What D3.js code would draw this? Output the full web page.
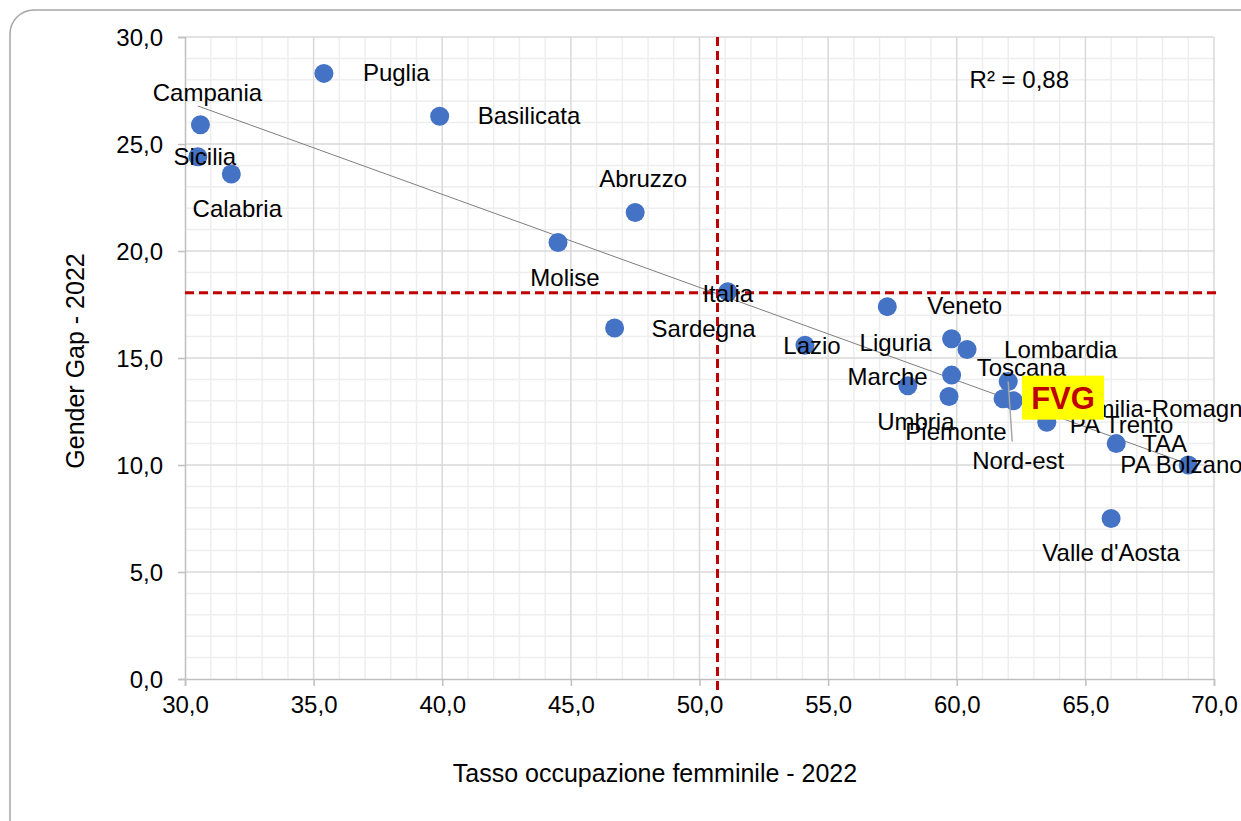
<!DOCTYPE html>
<html>
<head>
<meta charset="utf-8">
<script src="https://cdn.jsdelivr.net/npm/d3@7"></script>
<style>
  body { margin: 0; background: #fff; }
  svg { display: block; font-family: "Liberation Sans", Arial, sans-serif; }
</style>
</head>
<body>
<svg id="chart" width="1241" height="821"></svg>
<script>
// data
var regions = ["Puglia", "Basilicata", "Campania", "Sicilia", "Calabria", "Abruzzo", "Molise",
  "Italia", "Sardegna", "Lazio", "Veneto", "Liguria", "Lombardia", "Marche", "Umbria",
  "Piemonte", "Toscana", "FVG", "Nord-est", "Emilia-Romagna", "PA Trento", "TAA",
  "PA Bolzano", "Valle d'Aosta"];
var tassoOcc = [35.4, 39.9, 30.6, 30.5, 31.8, 47.5, 44.5,
  51.1, 46.7, 54.1, 57.3, 59.8, 60.4, 59.8, 58.1,
  59.7, 62.2, 61.8, 62.0, 63.8, 63.5, 66.2,
  69.0, 66.0];
var genderGap = [28.3, 26.3, 25.9, 24.4, 23.6, 21.8, 20.4,
  18.1, 16.4, 15.6, 17.4, 15.9, 15.4, 14.2, 13.7,
  13.2, 13.0, 13.1, 13.9, 12.6, 12.0, 11.0,
  10.0, 7.5];
var xTicks = [30, 35, 40, 45, 50, 55, 60, 65, 70];
var yTicks = [0, 5, 10, 15, 20, 25, 30];
var refX = 50.7, refY = 18.05; // red dashed reference lines
var r2Text = "R² = 0,88";

// label placement: [dx, dy, anchor]
var labelPos = {
  "Puglia": [39, 8, "start"], "Basilicata": [38, 8, "start"], "Campania": [7, -24, "middle"],
  "Sicilia": [7, 8, "middle"], "Calabria": [6, 43, "middle"], "Abruzzo": [8, -25, "middle"],
  "Molise": [7, 44, "middle"], "Italia": [0, 10, "middle"], "Sardegna": [37, 9, "start"],
  "Lazio": [7, 9, "middle"], "Veneto": [40, 7, "start"], "Liguria": [-20, 12, "end"],
  "Lombardia": [37, 9, "start"], "Marche": [-24, 10, "end"], "Umbria": [8, 44, "middle"],
  "Piemonte": [7, 43, "middle"], "Toscana": [8, -25, "middle"], "Nord-est": [10, 87, "middle"],
  "Emilia-Romagna": [24, 8, "start"], "PA Trento": [23, 11, "start"], "TAA": [26, 8, "start"],
  "PA Bolzano": [-68, 8, "start"], "Valle d'Aosta": [0, 42, "middle"]
};

var data = regions.map(function (d, i) {
  return { name: d, x: tassoOcc[i], y: genderGap[i] };
});

var svg = d3.select("#chart");
var pLeft = 185, pRight = 1214, pTop = 37, pBottom = 679;

var x = d3.scaleLinear().domain([30, 70]).range([pLeft, pRight]);
var y = d3.scaleLinear().domain([0, 30]).range([pBottom, pTop]);
var fmt = function (v) { return d3.format(".1f")(v).replace(".", ","); };

// chart frame
svg.append("rect")
  .attr("x", 10).attr("y", 10)
  .attr("width", 1260).attr("height", 840)
  .attr("rx", 24)
  .attr("fill", "#fff")
  .attr("stroke", "#a6a6a6")
  .attr("stroke-width", 1.5);

// minor grid
var grid = svg.append("g");
grid.selectAll("line.mx")
  .data(d3.range(31, 70).filter(function (v) { return v % 5 !== 0; }))
  .enter().append("line")
  .attr("x1", function (d) { return x(d); }).attr("x2", function (d) { return x(d); })
  .attr("y1", pTop).attr("y2", pBottom)
  .attr("stroke", "#eeeeee").attr("stroke-width", 1.5);
grid.selectAll("line.my")
  .data(d3.range(1, 30).filter(function (v) { return v % 5 !== 0; }))
  .enter().append("line")
  .attr("y1", function (d) { return y(d); }).attr("y2", function (d) { return y(d); })
  .attr("x1", pLeft).attr("x2", pRight)
  .attr("stroke", "#eeeeee").attr("stroke-width", 1.5);

// major grid
grid.selectAll("line.Mx")
  .data(xTicks.slice(1))
  .enter().append("line")
  .attr("x1", function (d) { return x(d); }).attr("x2", function (d) { return x(d); })
  .attr("y1", pTop).attr("y2", pBottom)
  .attr("stroke", "#d9d9d9").attr("stroke-width", 1.5);
grid.selectAll("line.My")
  .data(yTicks.slice(1))
  .enter().append("line")
  .attr("y1", function (d) { return y(d); }).attr("y2", function (d) { return y(d); })
  .attr("x1", pLeft).attr("x2", pRight)
  .attr("stroke", "#d9d9d9").attr("stroke-width", 1.5);

// axes
var xAxis = svg.append("g")
  .attr("transform", "translate(0," + pBottom + ")")
  .call(d3.axisBottom(x).tickValues(xTicks).tickFormat(fmt).tickSize(7).tickPadding(10));
var yAxis = svg.append("g")
  .attr("transform", "translate(" + pLeft + ",0)")
  .call(d3.axisLeft(y).tickValues(yTicks).tickFormat(fmt).tickSize(7).tickPadding(15));
[xAxis, yAxis].forEach(function (a) {
  a.select(".domain").attr("stroke", "#bfbfbf").attr("stroke-width", 1.5);
  a.selectAll(".tick line").attr("stroke", "#bfbfbf").attr("stroke-width", 1.5);
  a.selectAll(".tick text")
    .attr("fill", "#000")
    .style("font-family", "Liberation Sans, Arial, sans-serif")
    .style("font-size", "24px");
});
yAxis.selectAll(".tick text").attr("dy", "0.35em");

// axis titles
svg.append("text")
  .attr("x", 655).attr("y", 782)
  .attr("text-anchor", "middle")
  .style("font-size", "25px")
  .text("Tasso occupazione femminile - 2022");
svg.append("text")
  .attr("transform", "translate(84," + ((pTop + pBottom) / 2 + 3) + ") rotate(-90)")
  .attr("text-anchor", "middle")
  .style("font-size", "25px")
  .text("Gender Gap - 2022");

// trend line (least squares)
var mx = d3.mean(data, function (d) { return d.x; }),
  my = d3.mean(data, function (d) { return d.y; });
var sxy = d3.sum(data, function (d) { return (d.x - mx) * (d.y - my); }),
  sxx = d3.sum(data, function (d) { return (d.x - mx) * (d.x - mx); });
var slope = sxy / sxx, icpt = my - slope * mx;
var xExt = d3.extent(data, function (d) { return d.x; });
svg.append("line")
  .attr("x1", x(xExt[0])).attr("y1", y(icpt + slope * xExt[0]))
  .attr("x2", x(xExt[1])).attr("y2", y(icpt + slope * xExt[1]))
  .attr("stroke", "#7f7f7f").attr("stroke-width", 1);

// reference lines
svg.append("line")
  .attr("x1", x(refX)).attr("x2", x(refX))
  .attr("y1", y(30)).attr("y2", y(0) + 12)
  .attr("stroke", "#c00000").attr("stroke-width", 3)
  .attr("stroke-dasharray", "9,5");
svg.append("line")
  .attr("x1", x(30)).attr("x2", x(70) + 2)
  .attr("y1", y(refY)).attr("y2", y(refY))
  .attr("stroke", "#c00000").attr("stroke-width", 3)
  .attr("stroke-dasharray", "9,5");

svg.append("text")
  .attr("x", x(60.5)).attr("y", y(27.6))
  .style("font-size", "24px")
  .text(r2Text);

// points
svg.append("g").selectAll("circle")
  .data(data)
  .enter().append("circle")
  .attr("cx", function (d) { return x(d.x); })
  .attr("cy", function (d) { return y(d.y); })
  .attr("r", 9.5)
  .attr("fill", "#4472c4");

// leader line for Nord-est
var ne = data.filter(function (d) { return d.name === "Nord-est"; })[0];
svg.append("line")
  .attr("x1", x(ne.x)).attr("y1", y(ne.y))
  .attr("x2", x(ne.x) + 4).attr("y2", y(ne.y) + 60)
  .attr("stroke", "#a6a6a6").attr("stroke-width", 1.5);

// labels
svg.append("g").selectAll("text")
  .data(data.filter(function (d) { return labelPos[d.name]; }))
  .enter().append("text")
  .attr("x", function (d) { return x(d.x) + labelPos[d.name][0]; })
  .attr("y", function (d) { return y(d.y) + labelPos[d.name][1]; })
  .attr("text-anchor", function (d) { return labelPos[d.name][2]; })
  .style("font-size", "24px")
  .attr("fill", "#000")
  .text(function (d) { return d.name; });

// FVG highlighted box
var fvg = data.filter(function (d) { return d.name === "FVG"; })[0];
var fx = x(fvg.x) + 19, fy = y(fvg.y) - 23;
svg.append("rect")
  .attr("x", fx).attr("y", fy)
  .attr("width", 82).attr("height", 44)
  .attr("fill", "#ffff00");
svg.append("text")
  .attr("x", fx + 41).attr("y", fy + 33)
  .attr("text-anchor", "middle")
  .style("font-size", "31px")
  .style("font-weight", "bold")
  .attr("fill", "#c00000")
  .text("FVG");
</script>
</body>
</html>
